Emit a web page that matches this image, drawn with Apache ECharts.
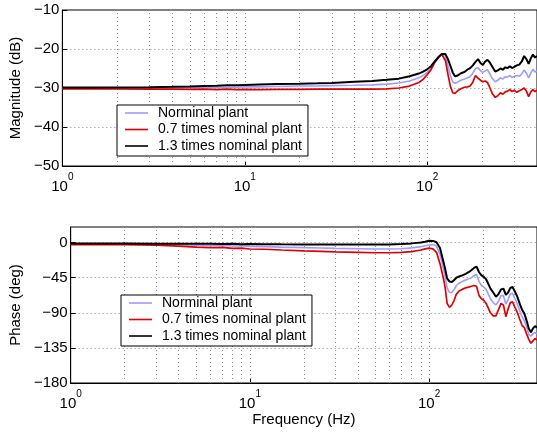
<!DOCTYPE html>
<html>
<head>
<meta charset="utf-8">
<script src="https://cdn.jsdelivr.net/npm/echarts@6/dist/echarts.min.js"></script>
<style>
  html, body { margin: 0; padding: 0; background: #fff; }
  #chart { width: 537px; height: 434px; }
</style>
</head>
<body>
<div id="chart"></div>
<script>
// frequency points (Hz)
var freq = [1, 1.5, 2, 3, 4, 5, 6, 7, 8, 9, 10, 12, 15, 20, 25, 30, 40, 50, 60, 70, 80, 90, 95, 100,
  105, 110, 115, 120, 123, 126, 130, 134, 138, 142, 147, 153, 160, 166, 172, 178, 184, 190, 196,
  202, 208, 214, 220, 228, 236, 244, 252, 260, 268, 276, 284, 292, 300, 310, 320, 330, 340, 350,
  360, 370, 380, 390, 400]

var seriesNames = ['Norminal plant', '0.7 times nominal plant', '1.3 times nominal plant']

// magnitude (dB)
var magNominal = [-30.0, -30.0, -30.0, -30.0, -30.0, -29.95, -29.9, -29.9, -29.8, -29.8, -29.7, -29.7,
  -29.6, -29.5, -29.5, -29.4, -29.3, -29.2, -29.0, -28.7, -28.2, -27.4, -26.8, -26.0,
  -25.0, -23.5, -22.3, -21.4, -21.1, -21.9, -24.3, -26.8, -28.4, -28.8, -28.5, -28.0, -27.7, -27.4,
  -27.1, -26.2, -25.0, -24.8, -25.6, -26.0, -25.6, -25.3, -26.3, -27.6, -28.4, -28.0, -27.4, -27.7,
  -27.1, -27.2, -26.8, -27.3, -27.0, -26.8, -27.0, -26.4, -25.4, -26.2, -27.4, -26.2, -25.2, -25.9, -25.6]
var magLow = [-30.2, -30.2, -30.25, -30.3, -30.3, -30.35, -30.3, -30.4, -30.3, -30.4, -30.35, -30.4,
  -30.35, -30.35, -30.3, -30.3, -30.3, -30.3, -30.2, -30.0, -29.5, -28.6, -27.8, -26.6,
  -25.3, -23.4, -22.0, -21.3, -21.2, -23.0, -26.5, -29.5, -31.2, -31.4, -30.7, -30.2, -29.8, -29.7,
  -29.5, -28.5, -26.8, -27.5, -28.0, -28.4, -28.2, -28.6, -29.8, -31.5, -32.4, -32.0, -31.2, -31.6,
  -31.0, -30.8, -30.4, -30.9, -30.6, -31.1, -30.7, -30.4, -30.0, -30.8, -32.2, -31.0, -30.4, -30.9, -30.6]
var magHigh = [-29.9, -29.9, -29.85, -29.8, -29.7, -29.6, -29.5, -29.45, -29.3, -29.3, -29.2, -29.1,
  -29.0, -28.9, -28.8, -28.7, -28.4, -28.2, -27.9, -27.6, -27.0, -26.3, -25.8, -25.2,
  -24.4, -23.2, -22.2, -21.3, -20.9, -21.3, -22.6, -24.3, -26.0, -27.0, -26.8, -26.2, -25.9, -25.3,
  -24.9, -24.2, -23.3, -22.6, -23.6, -24.1, -23.2, -22.8, -23.4, -24.6, -25.8, -25.5, -25.0, -25.3,
  -24.7, -24.9, -24.4, -24.9, -24.6, -24.2, -24.0, -23.2, -21.8, -22.6, -23.8, -22.4, -21.4, -22.2, -21.8]

// phase (deg)
var phNominal = [-1.5, -1.5, -1.6, -2.0, -2.8, -3.2, -3.8, -3.6, -4.3, -4.1, -4.8, -5.2,
  -5.8, -6.5, -7.0, -7.4, -7.9, -8.2, -8.2, -7.8, -6.8, -5.2, -4.0, -3.0,
  -2.6, -4.5, -15, -33, -44, -58, -64, -64, -60, -55, -52, -50, -48, -46.5,
  -45, -42.5, -41, -50, -55, -57, -60, -66, -72, -77, -80, -75, -68, -68,
  -79, -73, -66, -65, -71, -78, -87, -95, -100, -108, -118, -120, -117, -115, -117]
var phLow = [-2.5, -2.5, -2.6, -3.2, -4.5, -5.8, -6.5, -6.2, -7.5, -7.0, -8.2, -8.5,
  -9.5, -10.5, -11.2, -11.8, -12.5, -13.0, -13.0, -12.5, -11.5, -9.5, -8.0, -7.0,
  -8.0, -12.5, -27, -45, -58, -78, -83, -80, -74, -66, -62, -60, -58, -57,
  -56, -55, -56, -68, -72, -74, -78, -84, -90, -94, -94, -86, -78, -80,
  -95, -85, -77, -76, -82, -89, -98, -106, -109, -117, -124, -129, -126, -123, -125]
var phHigh = [-1.3, -1.3, -1.3, -1.4, -1.5, -1.6, -1.4, -1.9, -1.5, -2.0, -1.8, -2.0,
  -2.2, -2.3, -2.4, -2.4, -2.5, -2.5, -2.3, -1.8, -1.0, 0.2, 1.0, 2.4,
  2.2, 0.5, -7, -24, -34, -46, -50, -50.5, -48, -45, -43.5, -42, -40, -38,
  -35.5, -32.5, -30.8, -38, -42, -44, -47, -53, -59, -64, -69.5, -66, -60, -59,
  -67, -64, -58, -57, -62, -69, -78, -86, -91, -100, -110, -115, -110, -107, -109]

// dotted vertical grid at 1-2-...-9 per decade
var gridFreqs = [2, 3, 4, 5, 6, 7, 8, 9, 10, 20, 30, 40, 50, 60, 70, 80, 90, 100, 200, 300]
var magTicks = [-50, -10, 10]   // min, max, interval
var phaseTicks = [-180, 20, 45] // min, max, interval

var FONT = 'Liberation Sans'
var colors = ['#9c9cff', '#e00000', '#000000']
var widths = [1.6, 1.7, 2]

function pairs (vals) {
  return freq.map(function (f, i) { return [f, vals[i]] })
}

var dotted = { type: [1, 3], color: '#8a8a8a', width: 1 }

function xAxisOf (idx, withName) {
  return {
    type: 'log',
    logBase: 10,
    gridIndex: idx,
    min: 1,
    max: 400,
    name: withName ? 'Frequency (Hz)' : '',
    nameLocation: 'middle',
    nameGap: 28,
    nameTextStyle: { fontFamily: FONT, fontSize: 15, color: '#000' },
    axisLine: { onZero: false, lineStyle: { color: '#000', width: 1 } },
    axisTick: { inside: true, length: 5, lineStyle: { color: '#000' } },
    splitLine: { show: false },
    axisLabel: {
      showMaxLabel: false,
      margin: 6,
      formatter: function (v) {
        return '{a|10}{b|' + Math.round(Math.log10(v)) + '}'
      },
      rich: {
        a: { fontFamily: FONT, fontSize: 15, color: '#000', lineHeight: 15, padding: [7, 0, 0, 0], verticalAlign: 'top' },
        b: { fontFamily: FONT, fontSize: 10, color: '#000', lineHeight: 10, verticalAlign: 'top' }
      }
    }
  }
}

function yAxisOf (idx, name, t) {
  return {
    type: 'value',
    gridIndex: idx,
    min: t[0],
    max: t[1],
    interval: t[2],
    name: name,
    nameLocation: 'middle',
    nameGap: 27,
    nameTextStyle: { fontFamily: FONT, fontSize: 15, color: '#000' },
    axisLine: { show: true, onZero: false, lineStyle: { color: '#000', width: 1 } },
    axisTick: { show: true, inside: true, length: 5, lineStyle: { color: '#000' } },
    splitLine: { show: true, lineStyle: dotted },
    axisLabel: {
      showMaxLabel: idx === 0,
      margin: 3,
      fontFamily: FONT,
      fontSize: 15,
      color: '#000',
      formatter: function (v) { return String(v).replace('-', '\u2212') }
    }
  }
}

function lineSeries (i, idx, vals) {
  var s = {
    name: seriesNames[i],
    type: 'line',
    xAxisIndex: idx,
    yAxisIndex: idx,
    data: pairs(vals),
    showSymbol: false,
    symbol: 'none',
    z: 2 + i,
    lineStyle: { color: colors[i], width: widths[i] },
    itemStyle: { color: colors[i] }
  }
  if (i === 0) {
    s.markLine = {
      silent: true,
      z: 1,
      symbol: ['none', 'none'],
      label: { show: false },
      lineStyle: dotted,
      data: gridFreqs.map(function (f) { return { xAxis: f } })
    }
  }
  return s
}

function legendOf (left, top) {
  return {
    data: seriesNames,
    orient: 'vertical',
    left: left,
    top: top,
    selectedMode: false,
    icon: 'rect',
    itemWidth: 23,
    itemHeight: 1.6,
    itemGap: 2.5,
    padding: [1, 6, 3, 8],
    backgroundColor: '#fff',
    borderColor: '#000',
    borderWidth: 1,
    borderRadius: 0,
    textStyle: { fontFamily: FONT, fontSize: 14, color: '#000', padding: [0, 0, 0, 5] }
  }
}

var chart = echarts.init(document.getElementById('chart'), null, { renderer: 'canvas' })
chart.setOption({
  animation: false,
  backgroundColor: '#fff',
  textStyle: { fontFamily: FONT },
  grid: [
    { left: 62, right: -3, top: 10, height: 156, show: true, borderColor: '#000', borderWidth: 1, backgroundColor: 'transparent' },
    { left: 62, right: -3, top: 227, height: 156, show: true, borderColor: '#000', borderWidth: 1, backgroundColor: 'transparent' }
  ],
  legend: [legendOf(117, 105), legendOf(121, 295)],
  xAxis: [xAxisOf(0, false), xAxisOf(1, true)],
  yAxis: [yAxisOf(0, 'Magnitude (dB)', magTicks), yAxisOf(1, 'Phase (deg)', phaseTicks)],
  series: [
    lineSeries(0, 0, magNominal),
    lineSeries(1, 0, magLow),
    lineSeries(2, 0, magHigh),
    lineSeries(0, 1, phNominal),
    lineSeries(1, 1, phLow),
    lineSeries(2, 1, phHigh)
  ]
})
</script>
</body>
</html>
